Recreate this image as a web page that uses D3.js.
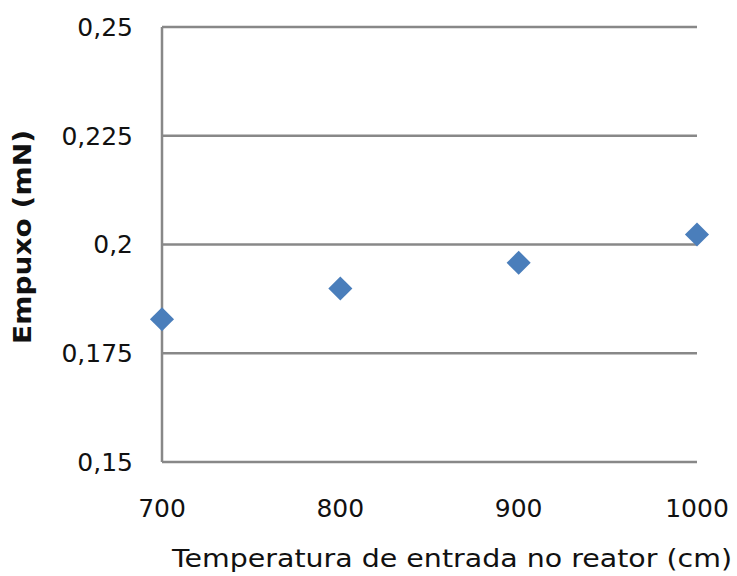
<!DOCTYPE html>
<html><head><meta charset="utf-8">
<script src="https://cdn.jsdelivr.net/npm/d3@7"></script>
<style>body{margin:0;background:#fff}text{font-family:"DejaVu Sans",Verdana,sans-serif;fill:#111}</style>
</head><body>
<svg id="c" width="737" height="576"></svg>
<script>
const xValues = [700, 800, 900, 1000];
const yValues = [0.1828, 0.1899, 0.1958, 0.2023];
const yTicks = [0.15, 0.175, 0.2, 0.225, 0.25];
const xTicks = [700, 800, 900, 1000];
const xTitle = "Temperatura de entrada no reator (cm)";
const yTitle = "Empuxo (mN)";

const svg = d3.select("#c");
const m = {l:162, r:697, t:27, b:462};
const x = d3.scaleLinear().domain([700,1000]).range([m.l, m.r]);
const y = d3.scaleLinear().domain([0.15,0.25]).range([m.b, m.t]);
const fmt = d => String(d).replace(".", ",");

svg.append("g").selectAll("line").data(yTicks).join("line")
  .attr("x1", m.l).attr("x2", m.r)
  .attr("y1", d => y(d)).attr("y2", d => y(d))
  .attr("stroke", "#888").attr("stroke-width", 2.5);
svg.append("line").attr("x1", m.l).attr("x2", m.l).attr("y1", m.t).attr("y2", m.b)
  .attr("stroke", "#888").attr("stroke-width", 2.5);

svg.append("g").selectAll("text").data(yTicks).join("text")
  .attr("x", 133).attr("y", d => y(d)).attr("dy", "0.35em")
  .attr("text-anchor", "end").attr("font-size", 25).text(fmt);
svg.append("g").selectAll("text").data(xTicks).join("text")
  .attr("x", d => x(d)).attr("y", 508).attr("dy", "0.35em")
  .attr("text-anchor", "middle").attr("font-size", 25).text(d => d);

svg.append("text").attr("x", 452).attr("y", 558).attr("dy", "0.35em")
  .attr("text-anchor", "middle").attr("font-size", 25)
  .attr("textLength", 560).attr("lengthAdjust", "spacingAndGlyphs").text(xTitle);
svg.append("text").attr("transform", "translate(22,237) rotate(-90)").attr("dy", "0.35em")
  .attr("text-anchor", "middle").attr("font-size", 25).attr("font-weight", "bold")
  .attr("textLength", 214).attr("lengthAdjust", "spacingAndGlyphs").text(yTitle);

svg.append("g").selectAll("path").data(xValues.map((v,i)=>[v, yValues[i]])).join("path")
  .attr("transform", d => `translate(${x(d[0])},${y(d[1])}) rotate(45)`)
  .attr("d", d3.symbol().type(d3.symbolSquare).size(290))
  .attr("fill", "#4a7ebb");
</script>
</body></html>
